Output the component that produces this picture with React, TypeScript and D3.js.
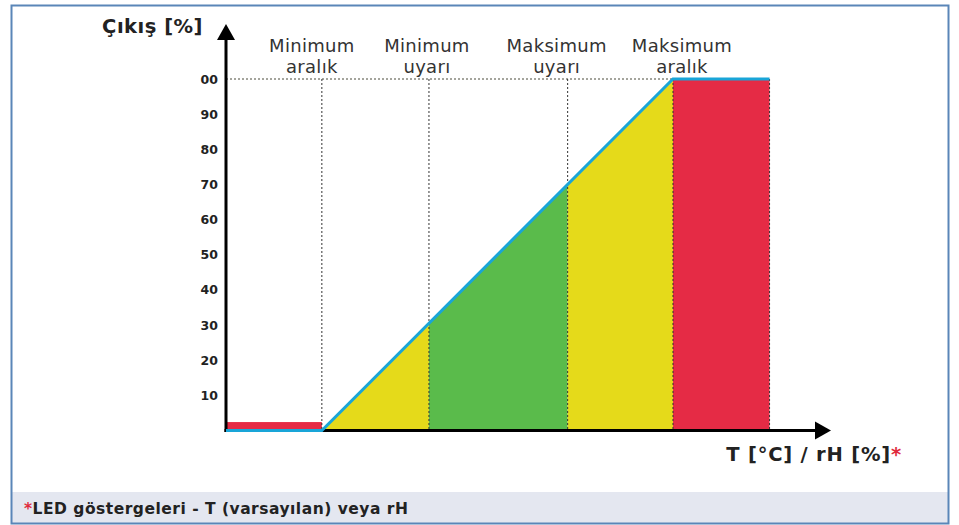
import React from 'react'
import * as d3 from 'd3'

// threshold positions on the input axis (ramp goes 0 -> 100)
const minRange = 0
const minWarn = 30.5
const maxWarn = 70
const maxRange = 100
const redEnd = 127.5
const axisStart = -27.3
const axisEnd = 145

const zoneLabels = [
  ['Minimum', 'aralık'],
  ['Minimum', 'uyarı'],
  ['Maksimum', 'uyarı'],
  ['Maksimum', 'aralık']
]
const labelAt = [minRange, minWarn, maxWarn, maxRange]

const yTicks = [10, 20, 30, 40, 50, 60, 70, 80, 90, 100]
const yTickLabels = ['10', '20', '30', '40', '50', '60', '70', '80', '90', '00']

// output curve (blue line)
const curveX = [axisStart, minRange, maxRange, redEnd]
const curveY = [0, 0, 100, 100]

const lowBarValue = 2.4

const zones = [
  { from: minRange, to: minWarn, color: '#e5da1a' },
  { from: minWarn, to: maxWarn, color: '#5abb4b' },
  { from: maxWarn, to: maxRange, color: '#e5da1a' },
  { from: maxRange, to: redEnd, color: '#e52b45' }
]

const dashedAt = [minRange, minWarn, maxWarn, maxRange, redEnd]

const W = 959
const H = 525
const labelNudge = [-10, -2, -11, 9]

const App = () => {
  const x = d3.scaleLinear().domain([axisStart, axisEnd]).range([226, 831])
  const y = d3.scaleLinear().domain([0, 100]).range([430.5, 79])
  const out = d3.scaleLinear().domain(curveX).range(curveY)

  const area = d3
    .area<number>()
    .x(d => x(d))
    .y0(y(0))
    .y1(d => y(out(d)))

  const line = d3
    .line<number>()
    .x((d, i) => x(d))
    .y((d, i) => y(curveY[i]))

  const x0 = x(axisStart)
  const y0 = y(0)
  const font = 'DejaVu Sans, Verdana, sans-serif'

  return (
    <svg width={W} height={H} style={{ position: 'absolute', left: 0, top: 0 }} fontFamily={font}>
      <rect x={0} y={0} width={W} height={H} fill="#fff" />
      <rect x={12} y={492} width={936} height={32} fill="#e4e7f0" />
      <rect x={11.5} y={5.5} width={937} height={518} fill="none" stroke="#5a86b8" strokeWidth={2} />

      {/* zones */}
      {zones.map((z, i) => (
        <path key={i} d={area([z.from, z.to]) || ''} fill={z.color} />
      ))}
      <rect
        x={x(axisStart)}
        y={y(lowBarValue)}
        width={x(minRange) - x(axisStart)}
        height={y(0) - y(lowBarValue)}
        fill="#e52b45"
      />

      {/* dotted guides */}
      <line x1={x0} x2={x(maxRange)} y1={y(100)} y2={y(100)} stroke="#4a4a3a" strokeWidth={1} strokeDasharray="2,2" />
      {dashedAt.map((v, i) => (
        <line key={i} x1={x(v)} x2={x(v)} y1={y(100)} y2={y0} stroke="#333" strokeWidth={1} strokeDasharray="2,2" />
      ))}

      {/* axes */}
      <line x1={x0} x2={x0} y1={y0 + 1.5} y2={38} stroke="#000" strokeWidth={3} />
      <path d={`M${x0 - 9},40L${x0 + 9},40L${x0},24Z`} fill="#000" />
      <line x1={x0 - 1.5} x2={816} y1={y0} y2={y0} stroke="#000" strokeWidth={3} />
      <path d={`M815,${y0 - 9}L815,${y0 + 9}L831,${y0}Z`} fill="#000" />

      {/* output line */}
      <path d={line(curveX) || ''} fill="none" stroke="#19a5d8" strokeWidth={3} />

      {/* y ticks */}
      {yTicks.map((t, i) => (
        <text key={t} x={218} y={y(t)} dy="0.36em" textAnchor="end" fontSize={12.5} fontWeight="bold" fill="#222">
          {yTickLabels[i]}
        </text>
      ))}

      {/* zone labels */}
      {zoneLabels.map((l, i) => (
        <text key={i} textAnchor="middle" fontSize={18} letterSpacing={0.3} fill="#333">
          <tspan x={x(labelAt[i]) + labelNudge[i]} y={52}>{l[0]}</tspan>
          <tspan x={x(labelAt[i]) + labelNudge[i]} y={73}>{l[1]}</tspan>
        </text>
      ))}

      <text x={203} y={33} textAnchor="end" fontSize={19.5} letterSpacing={0.5} fontWeight="bold" fill="#222">
        Çıkış [%]
      </text>
      <text x={902} y={461} textAnchor="end" fontSize={19.5} letterSpacing={0.8} fontWeight="bold" fill="#222">
        T [°C] / rH [%]<tspan fill="#e02a3c">*</tspan>
      </text>
      <text x={24} y={514} fontSize={15.5} letterSpacing={0.5} fontWeight="bold" fill="#222">
        <tspan fill="#e02a3c">*</tspan>LED göstergeleri - T (varsayılan) veya rH
      </text>
    </svg>
  )
}

export default App
